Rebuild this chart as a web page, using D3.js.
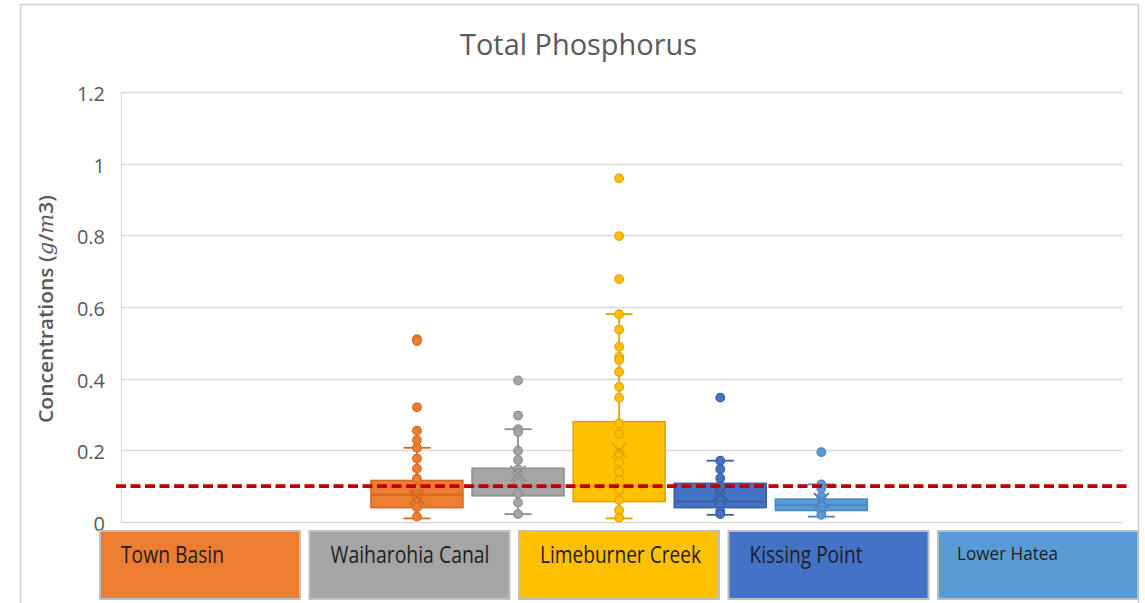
<!DOCTYPE html>
<html>
<head>
<meta charset="utf-8">
<script src="https://cdn.jsdelivr.net/npm/d3@7"></script>
<style>
  html, body { margin: 0; padding: 0; background: #ffffff; }
  svg { display: block; }
</style>
</head>
<body>
<svg id="chart" width="1145" height="603"></svg>
<script>
// ---------------- DATA ----------------
const title = "Total Phosphorus";
const yLabelMain = "Concentrations (";
const series = ["Town Basin", "Waiharohia Canal", "Limeburner Creek", "Kissing Point", "Lower Hatea"];
const seriesColors = ["#ED7D31", "#A5A5A5", "#FFC000", "#4472C4", "#5B9BD5"];
const seriesStroke = ["#D2691F", "#8E8E8E", "#DDA500", "#36609F", "#4A86BE"];
const q1 = [0.040, 0.073, 0.057, 0.040, 0.032];
const medians = [0.076, 0.100, 0.100, 0.057, 0.047];
const q3 = [0.116, 0.150, 0.280, 0.108, 0.064];
const whiskerLow = [0.010, 0.022, 0.010, 0.020, 0.015];
const whiskerHigh = [0.207, 0.259, 0.580, 0.171, 0.105];
const means = [0.070, 0.136, 0.200, 0.080, 0.060];
const townBasinPts = [0.510, 0.505, 0.320, 0.255, 0.229, 0.207, 0.177, 0.149, 0.121, 0.094, 0.076, 0.066, 0.041, 0.015];
const waiharohiaPts = [0.395, 0.297, 0.259, 0.251, 0.199, 0.173, 0.147, 0.136, 0.108, 0.080, 0.054, 0.022];
const limeburnerPts = [0.959, 0.798, 0.678, 0.580, 0.537, 0.489, 0.461, 0.452, 0.419, 0.377, 0.347, 0.275, 0.246, 0.192, 0.168, 0.140, 0.117, 0.089, 0.061, 0.033, 0.012];
const kissingPointPts = [0.347, 0.171, 0.147, 0.122, 0.100, 0.080, 0.060, 0.047, 0.030, 0.022];
const lowerHateaPts = [0.195, 0.105, 0.094, 0.071, 0.047, 0.033, 0.020];
const allPoints = [townBasinPts, waiharohiaPts, limeburnerPts, kissingPointPts, lowerHateaPts];
const yTicks = [0, 0.2, 0.4, 0.6, 0.8, 1, 1.2];
const yTickLabels = ["0", "0.2", "0.4", "0.6", "0.8", "1", "1.2"];
const threshold = 0.1;

// ---------------- LAYOUT ----------------
const svg = d3.select("#chart");
const plot = { left: 121, right: 1123, top: 92, bottom: 522 };
const textColor = "#595959";
const gridColor = "#D9D9D9";
const legendTextWidths = [103, 159, 161, 113, 101];

const y = d3.scaleLinear().domain([0, 1.2]).range([plot.bottom, plot.top]);
const x = d3.scaleBand().domain(series).range([366.4, 871.9]).paddingInner(0.09).paddingOuter(0.045);
const legendX = d3.scaleBand().domain(series).range([100, 1138]).paddingInner(0.0453).paddingOuter(0);

// chart frame
svg.append("rect")
  .attr("x", 20.5).attr("y", 4.5).attr("width", 1118).attr("height", 640)
  .attr("fill", "#fff").attr("stroke", "#D0D0D0").attr("stroke-width", 1.5);

// gridlines
const gGrid = svg.append("g");
gGrid.selectAll("line").data(yTicks.filter(d => d > 0)).join("line")
  .attr("x1", plot.left).attr("x2", plot.right)
  .attr("y1", d => Math.round(y(d)) + 0.5).attr("y2", d => Math.round(y(d)) + 0.5)
  .attr("stroke", gridColor).attr("stroke-width", 1.3);
// axis lines
svg.append("line").attr("x1", plot.left + 0.5).attr("x2", plot.left + 0.5)
  .attr("y1", plot.top).attr("y2", plot.bottom).attr("stroke", gridColor).attr("stroke-width", 1.3);
svg.append("line").attr("x1", plot.left).attr("x2", plot.right)
  .attr("y1", plot.bottom + 0.5).attr("y2", plot.bottom + 0.5).attr("stroke", gridColor).attr("stroke-width", 1.3);

// y tick labels via axis
const yAxis = d3.axisLeft(y).tickValues(yTicks).tickFormat((d, i) => yTickLabels[i]).tickSize(0).tickPadding(0);
const gY = svg.append("g").attr("transform", "translate(105,0)").call(yAxis);
gY.select(".domain").remove();
gY.selectAll("text")
  .attr("fill", textColor)
  .attr("font-family", "'Open Sans', 'Noto Sans', sans-serif")
  .attr("font-size", 20)
  .attr("dy", "0.42em");

// title
svg.append("text")
  .attr("x", 578.5).attr("y", 55)
  .attr("text-anchor", "middle")
  .attr("fill", textColor)
  .attr("font-family", "'Open Sans', 'Noto Sans', sans-serif")
  .attr("font-size", 30)
  .attr("textLength", 237).attr("lengthAdjust", "spacingAndGlyphs")
  .text(title);

// y-axis label
const yl = svg.append("text")
  .attr("transform", "translate(53,309) rotate(-90)")
  .attr("text-anchor", "middle")
  .attr("fill", textColor)
  .attr("font-family", "'Open Sans', 'Noto Sans', sans-serif")
  .attr("font-weight", 600)
  .attr("font-size", 20)
  .attr("textLength", 228).attr("lengthAdjust", "spacingAndGlyphs");
yl.append("tspan").text(yLabelMain);
yl.append("tspan").attr("font-style", "italic").attr("font-family", "'DejaVu Serif', serif").attr("font-weight", 400).text("g");
yl.append("tspan").text("/");
yl.append("tspan").attr("font-style", "italic").attr("font-family", "'DejaVu Serif', serif").attr("font-weight", 400).text("m");
yl.append("tspan").text("3)");

// ---------------- BOXES ----------------
const boxes = svg.append("g");
series.forEach((s, i) => {
  const g = boxes.append("g");
  const cx = x(s) + x.bandwidth() / 2;
  const bw = x.bandwidth();
  const col = seriesColors[i], sc = seriesStroke[i];
  const cap = 13.5;
  // whiskers
  g.append("line").attr("x1", cx).attr("x2", cx).attr("y1", y(q3[i])).attr("y2", y(whiskerHigh[i]))
    .attr("stroke", sc).attr("stroke-width", 1.8);
  g.append("line").attr("x1", cx).attr("x2", cx).attr("y1", y(q1[i])).attr("y2", y(whiskerLow[i]))
    .attr("stroke", sc).attr("stroke-width", 1.8);
  g.append("line").attr("x1", cx - cap).attr("x2", cx + cap).attr("y1", y(whiskerHigh[i])).attr("y2", y(whiskerHigh[i]))
    .attr("stroke", sc).attr("stroke-width", 1.8);
  g.append("line").attr("x1", cx - cap).attr("x2", cx + cap).attr("y1", y(whiskerLow[i])).attr("y2", y(whiskerLow[i]))
    .attr("stroke", sc).attr("stroke-width", 1.8);
  // box
  g.append("rect").attr("x", x(s)).attr("width", bw)
    .attr("y", y(q3[i])).attr("height", y(q1[i]) - y(q3[i]))
    .attr("fill", col).attr("stroke", sc).attr("stroke-width", 1.5);
  // median
  g.append("line").attr("x1", x(s)).attr("x2", x(s) + bw).attr("y1", y(medians[i])).attr("y2", y(medians[i]))
    .attr("stroke", sc).attr("stroke-width", 1.8);
  // points
  g.selectAll("circle").data(allPoints[i]).join("circle")
    .attr("cx", cx).attr("cy", d => y(d)).attr("r", 4.3)
    .attr("fill", col).attr("stroke", sc).attr("stroke-width", 1.2);
  // mean marker X
  const my = y(means[i]), m = 7.5;
  g.append("path")
    .attr("d", `M${cx - m},${my - m}L${cx + m},${my + m}M${cx - m},${my + m}L${cx + m},${my - m}`)
    .attr("stroke", sc).attr("stroke-width", 1.8).attr("fill", "none");
});

// threshold line
svg.append("line")
  .attr("x1", 116).attr("x2", 1130)
  .attr("y1", y(threshold)).attr("y2", y(threshold))
  .attr("stroke", "#C00000").attr("stroke-width", 3.8)
  .attr("stroke-dasharray", "10,4.5");

// ---------------- LEGEND BOXES ----------------
const lg = svg.append("g");
series.forEach((s, i) => {
  lg.append("rect")
    .attr("x", legendX(s)).attr("y", 531).attr("width", legendX.bandwidth()).attr("height", 68)
    .attr("fill", seriesColors[i]).attr("stroke", "#BFBFBF").attr("stroke-width", 2);
  const small = i === 4;
  lg.append("text")
    .attr("x", legendX(s) + (small ? 19 : 21)).attr("y", small ? 560 : 562.5)
    .attr("fill", "#1E1E1E")
    .attr("font-family", "'Open Sans', 'Noto Sans', sans-serif")
    .attr("font-size", small ? 19 : 23)
    .attr("textLength", legendTextWidths[i]).attr("lengthAdjust", "spacingAndGlyphs")
    .text(s);
});
</script>
</body>
</html>
